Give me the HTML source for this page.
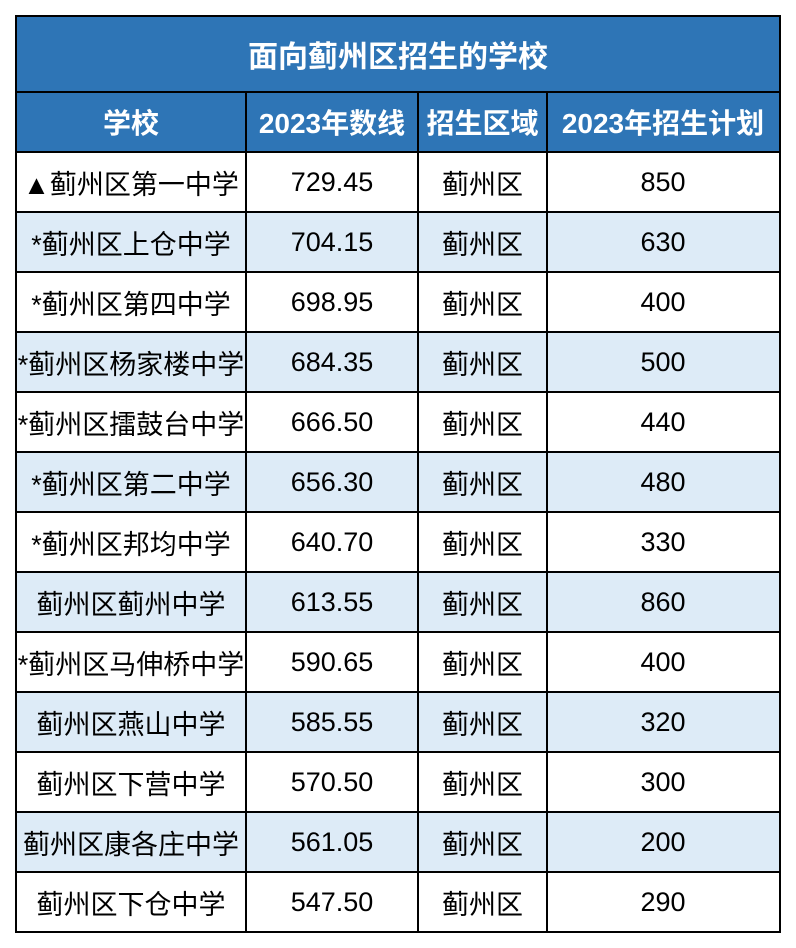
<!DOCTYPE html>
<html><head><meta charset="utf-8"><style>
body{margin:0;width:796px;height:948px;background:#fff;position:relative;overflow:hidden;font-family:"Liberation Sans","Noto Sans CJK SC",sans-serif;}
.c{position:absolute;display:flex;align-items:center;justify-content:center;box-sizing:border-box;color:#000;font-size:27px;white-space:nowrap;}
.h{color:#fff;font-weight:bold;background:#2e75b6;font-size:28px;}
.l{position:absolute;background:#000;}
</style></head><body>
<div class="c h" style="left:16px;top:16px;width:764px;height:76px;font-size:30px;">面向蓟州区招生的学校</div>
<div id="t"></div>
<script>
var cols=[16,246,418,547,779];
var hdr=["学校","2023年数线","招生区域","2023年招生计划"];
var rows=[["▲蓟州区第一中学","729.45","850"],["*蓟州区上仓中学","704.15","630"],["*蓟州区第四中学","698.95","400"],["*蓟州区杨家楼中学","684.35","500"],["*蓟州区擂鼓台中学","666.50","440"],["*蓟州区第二中学","656.30","480"],["*蓟州区邦均中学","640.70","330"],["蓟州区蓟州中学","613.55","860"],["*蓟州区马伸桥中学","590.65","400"],["蓟州区燕山中学","585.55","320"],["蓟州区下营中学","570.50","300"],["蓟州区康各庄中学","561.05","200"],["蓟州区下仓中学","547.50","290"]];
var h="";
for(var i=0;i<4;i++)h+='<div class="c h" style="left:'+cols[i]+'px;top:92px;width:'+(cols[i+1]-cols[i])+'px;height:60px;">'+hdr[i]+'</div>';
for(var r=0;r<13;r++){var y=152+r*60;var bg=r%2?"#ddebf7":"#fff";var v=[rows[r][0],rows[r][1],"蓟州区",rows[r][2]];
for(var i=0;i<4;i++)h+='<div class="c" style="background:'+bg+';left:'+cols[i]+'px;top:'+y+'px;width:'+(cols[i+1]-cols[i])+'px;height:60px;">'+v[i]+'</div>';}
h+='<div class="l" style="left:15px;top:15px;width:766px;height:2px"></div>';
h+='<div class="l" style="left:15px;top:91px;width:766px;height:2px"></div>';
for(var r=0;r<=13;r++)h+='<div class="l" style="left:15px;top:'+(151+r*60)+'px;width:766px;height:2px"></div>';
h+='<div class="l" style="left:15px;top:15px;width:2px;height:917px"></div>';
h+='<div class="l" style="left:779px;top:15px;width:2px;height:917px"></div>';
for(var i=1;i<4;i++)h+='<div class="l" style="left:'+(cols[i]-1)+'px;top:91px;width:2px;height:841px"></div>';
document.getElementById("t").innerHTML=h;
</script>
</body></html>
